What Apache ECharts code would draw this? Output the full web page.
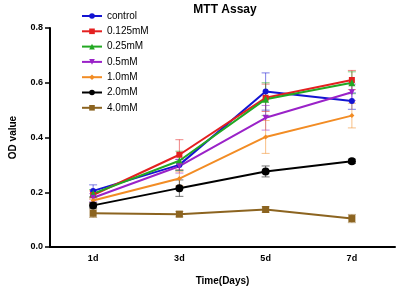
<!DOCTYPE html>
<html>
<head>
<meta charset="utf-8">
<script src="https://cdn.jsdelivr.net/npm/echarts@6/dist/echarts.min.js"></script>
<style>
  html, body { margin: 0; padding: 0; background: #fff; }
  #chart { width: 398px; height: 291px; }
</style>
</head>
<body>
<div id="chart"></div>
<script>
// data
const days = ['1d', '3d', '5d', '7d']
const yTicks = [0, 0.2, 0.4, 0.6, 0.8]

const groupNames = ['control', '0.125mM', '0.25mM', '0.5mM', '1.0mM', '2.0mM', '4.0mM']
const groupColors = ['#1414d2', '#e42020', '#22a822', '#9a22c8', '#f28c24', '#000000', '#8c6420']
const groupSymbols = ['circle', 'rect', 'triangle', 'path://M0,0 L10,0 L5,9 Z', 'diamond', 'circle', 'rect']
const groupSymbolSizes = [6, 6, 7, 6, 5, 8, 7]

const controlMean = [0.205, 0.300, 0.568, 0.533]
const mM0125Mean = [0.190, 0.337, 0.545, 0.610]
const mM025Mean = [0.195, 0.315, 0.540, 0.600]
const mM05Mean = [0.180, 0.295, 0.472, 0.565]
const mM1Mean = [0.170, 0.250, 0.402, 0.480]
const mM2Mean = [0.152, 0.215, 0.276, 0.313]
const mM4Mean = [0.123, 0.120, 0.137, 0.104]

const controlErr = [0.022, 0.020, 0.068, 0.030]
const mM0125Err = [0.015, 0.055, 0.050, 0.035]
const mM025Err = [0.015, 0.035, 0.060, 0.040]
const mM05Err = [0.015, 0.025, 0.045, 0.030]
const mM1Err = [0.012, 0.025, 0.060, 0.045]
const mM2Err = [0.010, 0.030, 0.020, 0.008]
const mM4Err = [0.015, 0.010, 0.010, 0.015]

const means = [controlMean, mM0125Mean, mM025Mean, mM05Mean, mM1Mean, mM2Mean, mM4Mean]
const errs = [controlErr, mM0125Err, mM025Err, mM05Err, mM1Err, mM2Err, mM4Err]

const font = 'Arial, "Liberation Sans", Helvetica, sans-serif'

// error bars drawn with the axis coordinates
const errorBarSeries = groupNames.map((name, i) => ({
  type: 'custom',
  name: name + ' SD',
  z: 1,
  silent: true,
  itemStyle: { color: groupColors[i] },
  data: days.map((d, j) => [j, means[i][j] - errs[i][j], means[i][j] + errs[i][j]]),
  renderItem: (params, api) => {
    const lo = api.coord([api.value(0), api.value(1)])
    const hi = api.coord([api.value(0), api.value(2)])
    const w = 4
    const style = { stroke: groupColors[i], lineWidth: 1, opacity: 0.55 }
    return {
      type: 'group',
      children: [
        { type: 'line', shape: { x1: lo[0], y1: lo[1], x2: hi[0], y2: hi[1] }, style },
        { type: 'line', shape: { x1: lo[0] - w, y1: lo[1], x2: lo[0] + w, y2: lo[1] }, style },
        { type: 'line', shape: { x1: hi[0] - w, y1: hi[1], x2: hi[0] + w, y2: hi[1] }, style }
      ]
    }
  }
}))

const lineSeries = groupNames.map((name, i) => ({
  type: 'line',
  name: name,
  z: 3,
  data: means[i],
  symbol: groupSymbols[i],
  symbolSize: groupSymbolSizes[i],
  showAllSymbol: true,
  lineStyle: { color: groupColors[i], width: 2 },
  itemStyle: { color: groupColors[i] }
}))

const chart = echarts.init(document.getElementById('chart'))
chart.setOption({
  animation: false,
  title: {
    text: 'MTT Assay',
    left: 220,
    top: -1,
    textAlign: 'center',
    textStyle: { fontFamily: font, fontSize: 12, fontWeight: 'bold', color: '#000' }
  },
  legend: {
    data: groupNames,
    orient: 'vertical',
    left: 76,
    top: 5,
    itemWidth: 20,
    itemHeight: 7,
    itemGap: 3.3,
    textStyle: { fontFamily: font, fontSize: 10, color: '#000', lineHeight: 12 }
  },
  grid: { left: 45, right: 3, top: 28, bottom: 41 },
  xAxis: {
    type: 'category',
    data: days,
    boundaryGap: true,
    name: 'Time(Days)',
    nameLocation: 'middle',
    nameGap: 29,
    nameTextStyle: { fontFamily: font, fontSize: 10, fontWeight: 'bold', color: '#000' },
    axisLine: { lineStyle: { color: '#000', width: 2 } },
    axisTick: { alignWithLabel: true, length: 4, lineStyle: { color: '#000', width: 1.5 } },
    axisLabel: { fontFamily: font, fontSize: 9, fontWeight: 'bold', color: '#000', margin: 7 },
    splitLine: { show: false }
  },
  yAxis: {
    type: 'value',
    min: 0,
    max: 0.8,
    interval: 0.2,
    name: 'OD value',
    nameLocation: 'middle',
    nameGap: 32,
    nameTextStyle: { fontFamily: font, fontSize: 10, fontWeight: 'bold', color: '#000' },
    axisLine: { show: true, lineStyle: { color: '#000', width: 2 } },
    axisTick: { show: true, length: 5, lineStyle: { color: '#000', width: 1.5 } },
    axisLabel: {
      fontFamily: font, fontSize: 9, fontWeight: 'bold', color: '#000', margin: 7,
      formatter: v => yTicks.includes(Math.round(v * 10) / 10) ? v.toFixed(1) : ''
    },
    splitLine: { show: false }
  },
  series: [...errorBarSeries, ...lineSeries]
})
</script>
</body>
</html>
